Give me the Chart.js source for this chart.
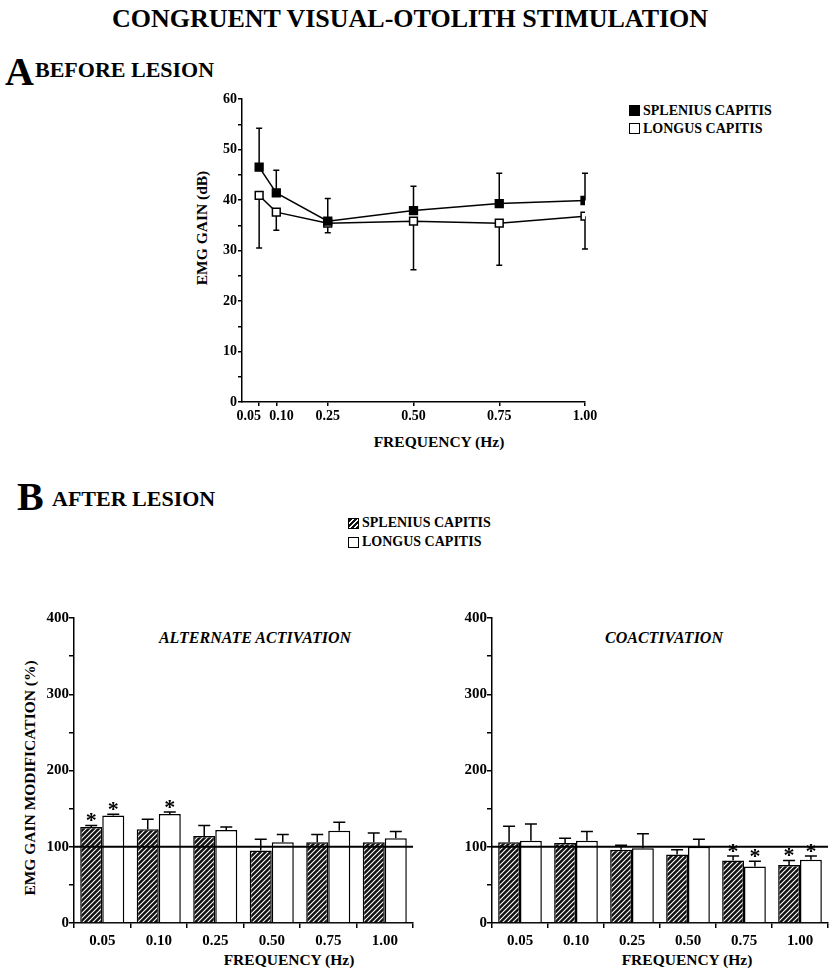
<!DOCTYPE html>
<html>
<head>
<meta charset="utf-8">
<script src="https://cdn.jsdelivr.net/npm/chart.js@4.4.1/dist/chart.umd.min.js"></script>
<style>
  body { margin: 0; background: #fff; }
  #page { position: relative; width: 840px; height: 968px; overflow: hidden;
          font-family: "Liberation Serif", "Times New Roman", serif; font-weight: bold; color: #000; }
  .t { position: absolute; white-space: nowrap; line-height: 1; }
  .c { transform: translate(-50%, -50%); }
  .v { transform: translate(-50%, -50%) rotate(-90deg); }
  .sw { position: absolute; width: 11px; height: 11px; box-sizing: border-box; border: 1.5px solid #000; }
  canvas { position: absolute; }
</style>
</head>
<body>
<div id="page">
  <div class="t" style="left:0;width:820px;text-align:center;top:6px;font-size:26px">CONGRUENT VISUAL-OTOLITH STIMULATION</div>

  <div class="t" style="left:5px;top:52px;font-size:40px">A</div>
  <div class="t" style="left:35px;top:59px;font-size:22px">BEFORE LESION</div>

  <div class="sw" style="left:629px;top:105px;background:#000"></div>
  <div class="t" style="left:643px;top:104px;font-size:14px">SPLENIUS CAPITIS</div>
  <div class="sw" style="left:629px;top:123px;background:#fff"></div>
  <div class="t" style="left:643px;top:122px;font-size:14px">LONGUS CAPITIS</div>

  <div class="t v" style="left:202px;top:228px;font-size:15.5px">EMG GAIN (dB)</div>
  <div class="t c" style="left:439px;top:442px;font-size:15.5px">FREQUENCY (Hz)</div>

  <div class="t" style="left:17px;top:477px;font-size:40px">B</div>
  <div class="t" style="left:52px;top:488px;font-size:22px">AFTER LESION</div>

  <div class="sw" style="left:348px;top:518px;background:repeating-linear-gradient(135deg,#111 0 2.6px,#fff 2.6px 3.6px)"></div>
  <div class="t" style="left:362px;top:516px;font-size:14px">SPLENIUS CAPITIS</div>
  <div class="sw" style="left:348px;top:537px;background:#fff"></div>
  <div class="t" style="left:362px;top:535px;font-size:14px">LONGUS CAPITIS</div>

  <div class="t v" style="left:30px;top:778px;font-size:15.5px">EMG GAIN MODIFICATION (%)</div>
  <div class="t c" style="left:255px;top:638px;font-size:16px;font-style:italic">ALTERNATE ACTIVATION</div>
  <div class="t c" style="left:664px;top:638px;font-size:16px;font-style:italic">COACTIVATION</div>
  <div class="t c" style="left:289px;top:960px;font-size:15.5px">FREQUENCY (Hz)</div>
  <div class="t c" style="left:687px;top:960px;font-size:15.5px">FREQUENCY (Hz)</div>

  <canvas id="before" width="470" height="375" style="left:140px;top:85px"></canvas>
  <canvas id="alt" width="420" height="368" style="left:0;top:600px"></canvas>
  <canvas id="coact" width="420" height="368" style="left:420px;top:600px"></canvas>
</div>

<script>
// frequencies (Hz) and tick labels
const freqs = [0.05, 0.10, 0.25, 0.50, 0.75, 1.00];
const freqLabels = ['0.05', '0.10', '0.25', '0.50', '0.75', '1.00'];

// A: before lesion, EMG gain (dB) with one-sided SD
const spleniusBefore = [46.5, 41.4, 35.8, 37.9, 39.3, 39.9];
const spleniusBeforeSd = [7.7, 4.5, 4.5, 4.8, 6.0, 5.4];
const longusBefore = [40.9, 37.6, 35.4, 35.8, 35.4, 36.8];
const longusBeforeSd = [10.4, 3.6, 1.9, 9.6, 8.3, 6.5];

// B: after lesion, gain modification (%)
const spleniusAlt = [126, 123, 114, 95, 106, 106];
const spleniusAltErr = [2, 13, 14, 15, 10, 12];
const longusAlt = [141, 143, 122, 106, 121, 111];
const longusAltErr = [1.5, 2.5, 4, 10, 11, 9];
const spleniusAltSig = [1, 0, 0, 0, 0, 0];
const longusAltSig = [1, 1, 0, 0, 0, 0];

const spleniusCo = [106, 105, 96, 90, 82, 76];
const spleniusCoErr = [21, 6, 6, 6, 6, 6];
const longusCo = [108, 108, 98, 100, 74, 83];
const longusCoErr = [22, 12, 19, 10, 7, 5];
const spleniusCoSig = [0, 0, 0, 0, 1, 1];
const longusCoSig = [0, 0, 0, 0, 1, 1];

const FONT = 'Liberation Serif';

function hatchFor(canvas) {
  const c = document.createElement('canvas');
  c.width = 5; c.height = 5;
  const g = c.getContext('2d');
  g.fillStyle = '#111';
  g.fillRect(0, 0, 5, 5);
  g.strokeStyle = '#fff';
  g.lineWidth = 1.1;
  g.beginPath();
  g.moveTo(-1, 6); g.lineTo(6, -1);
  g.moveTo(-1, 1); g.lineTo(1, -1);
  g.moveTo(4, 6); g.lineTo(6, 4);
  g.stroke();
  return canvas.getContext('2d').createPattern(c, 'repeat');
}

function zeroPad(s) {
  s.paddingLeft = 0; s.paddingRight = 0; s.paddingTop = 0; s.paddingBottom = 0;
}

// whiskers for the line chart (up for splenius, down for longus)
const lineErrors = {
  id: 'lineErrors',
  beforeDatasetsDraw(chart) {
    const { ctx, scales: { x, y } } = chart;
    ctx.save();
    ctx.strokeStyle = '#000';
    ctx.lineWidth = 1.5;
    chart.data.datasets.forEach(ds => {
      ds.data.forEach((p, i) => {
        const px = x.getPixelForValue(p.x);
        const end = ds.errDir > 0 ? p.y + ds.err[i] : p.y - ds.err[i];
        const y0 = y.getPixelForValue(p.y);
        const y1 = y.getPixelForValue(end);
        ctx.beginPath();
        ctx.moveTo(px, y0); ctx.lineTo(px, y1);
        ctx.moveTo(px - 3, y1); ctx.lineTo(px + 3, y1);
        ctx.stroke();
      });
    });
    ctx.restore();
  }
};

new Chart(document.getElementById('before'), {
  type: 'line',
  data: {
    datasets: [
      {
        label: 'SPLENIUS CAPITIS',
        data: freqs.map((f, i) => ({ x: f, y: spleniusBefore[i] })),
        err: spleniusBeforeSd, errDir: 1,
        borderColor: '#000', borderWidth: 1.5,
        pointStyle: 'rect', pointRadius: 5.5,
        pointBackgroundColor: '#000', pointBorderColor: '#000', pointBorderWidth: 1.5
      },
      {
        label: 'LONGUS CAPITIS',
        data: freqs.map((f, i) => ({ x: f, y: longusBefore[i] })),
        err: longusBeforeSd, errDir: -1,
        borderColor: '#000', borderWidth: 1.5,
        pointStyle: 'rect', pointRadius: 5.5,
        pointBackgroundColor: '#fff', pointBorderColor: '#000', pointBorderWidth: 1.5
      }
    ]
  },
  options: {
    responsive: false,
    animation: false,
    devicePixelRatio: 1,
    layout: { padding: { top: 14, right: 25, bottom: 0, left: 0 } },
    plugins: { legend: { display: false }, tooltip: { enabled: false } },
    scales: {
      x: {
        type: 'linear', min: 0, max: 1,
        afterBuildTicks: a => { a.ticks = freqs.map(v => ({ value: v })); },
        afterFit: s => { s.height = 58; zeroPad(s); },
        grid: { drawOnChartArea: false, tickLength: 4, color: '#000', lineWidth: 1.5 },
        border: { color: '#000', width: 1.5 },
        ticks: {
          autoSkip: false, maxRotation: 0, padding: 2, color: '#000',
          font: { family: FONT, weight: 'bold', size: 14 },
          callback: (v, i) => i === 0 ? freqLabels[i] + '      ' : i === 1 ? '   ' + freqLabels[i] : freqLabels[i]
        }
      },
      y: {
        min: 0, max: 60,
        afterFit: s => { s.width = 102; zeroPad(s); },
        grid: { drawOnChartArea: false, tickLength: 4, color: '#000', lineWidth: 1.5 },
        border: { color: '#000', width: 1.5 },
        ticks: {
          stepSize: 5, autoSkip: false, padding: 1, color: '#000',
          font: { family: FONT, weight: 'bold', size: 14 },
          callback: v => v % 10 === 0 ? v : ''
        }
      }
    }
  },
  plugins: [lineErrors]
});

// 100% line, error bars and significance stars for the bar charts
const barExtras = {
  id: 'barExtras',
  afterDatasetsDraw(chart) {
    const { ctx, chartArea, scales: { y } } = chart;
    ctx.save();
    ctx.strokeStyle = '#000';
    chart.data.datasets.forEach((ds, di) => {
      chart.getDatasetMeta(di).data.forEach((bar, i) => {
        const y0 = y.getPixelForValue(ds.data[i]);
        const y1 = y.getPixelForValue(ds.data[i] + ds.err[i]);
        ctx.lineWidth = 1.5;
        ctx.beginPath();
        ctx.moveTo(bar.x, y0); ctx.lineTo(bar.x, y1);
        ctx.moveTo(bar.x - 6, y1); ctx.lineTo(bar.x + 6, y1);
        ctx.stroke();
        if (ds.sig[i]) {
          ctx.fillStyle = '#000';
          ctx.font = 'bold 22px "' + FONT + '"';
          ctx.textAlign = 'center';
          ctx.textBaseline = 'alphabetic';
          ctx.fillText('*', bar.x, y1 - 8 + 10);
        }
      });
    });
    const y100 = y.getPixelForValue(100);
    ctx.lineWidth = 2;
    ctx.beginPath();
    ctx.moveTo(chartArea.left, y100); ctx.lineTo(chartArea.right, y100);
    ctx.stroke();
    ctx.restore();
  }
};

function barChart(id, yWidth, padRight, sVals, sErr, sSig, lVals, lErr, lSig) {
  const canvas = document.getElementById(id);
  const tickFont = { family: FONT, weight: 'bold', size: 15 };
  return new Chart(canvas, {
    type: 'bar',
    data: {
      labels: freqLabels,
      datasets: [
        { label: 'SPLENIUS CAPITIS', data: sVals, err: sErr, sig: sSig,
          backgroundColor: hatchFor(canvas), borderColor: '#000', borderWidth: 1.5 },
        { label: 'LONGUS CAPITIS', data: lVals, err: lErr, sig: lSig,
          backgroundColor: '#fff', borderColor: '#000', borderWidth: 1.5 }
      ]
    },
    options: {
      responsive: false,
      animation: false,
      devicePixelRatio: 1,
      layout: { padding: { top: 18, right: padRight, bottom: 0, left: 0 } },
      datasets: { bar: { barPercentage: 1, categoryPercentage: 0.78 } },
      plugins: { legend: { display: false }, tooltip: { enabled: false } },
      scales: {
        x: {
          afterFit: s => { s.height = 45; zeroPad(s); },
          grid: { offset: true, drawOnChartArea: false, tickLength: 5, color: '#000', lineWidth: 1.5 },
          border: { color: '#000', width: 1.5 },
          ticks: { padding: 4, color: '#000', font: tickFont, maxRotation: 0, autoSkip: false }
        },
        y: {
          min: 0, max: 400,
          afterFit: s => { s.width = yWidth; zeroPad(s); },
          grid: { drawOnChartArea: false, tickLength: 5, color: '#000', lineWidth: 1.5 },
          border: { color: '#000', width: 1.5 },
          ticks: {
            stepSize: 50, autoSkip: false, padding: 0, color: '#000', font: tickFont,
            callback: v => v % 100 === 0 ? v : ''
          }
        }
      }
    },
    plugins: [barExtras]
  });
}

barChart('alt', 74, 7, spleniusAlt, spleniusAltErr, spleniusAltSig, longusAlt, longusAltErr, longusAltSig);
barChart('coact', 72, 12, spleniusCo, spleniusCoErr, spleniusCoSig, longusCo, longusCoErr, longusCoSig);
</script>
</body>
</html>
